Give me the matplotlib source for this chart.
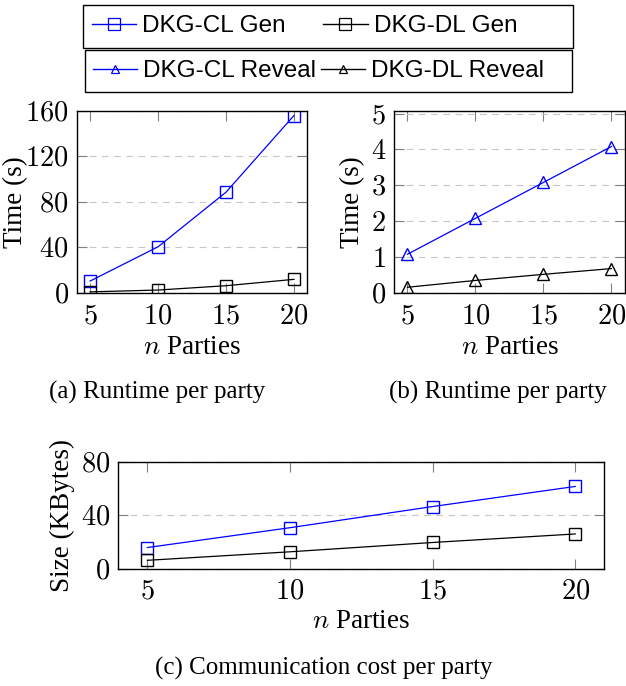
import matplotlib
matplotlib.use("Agg")
import matplotlib.pyplot as plt
from matplotlib.lines import Line2D
from matplotlib.patches import Rectangle

plt.rcParams['mathtext.fontset'] = 'cm'
plt.rcParams['font.family'] = ['Liberation Serif', 'DejaVu Serif']

# data
parties = [5, 10, 15, 20]
cl_gen = [10.5, 40.6, 88.6, 156]
dl_gen = [1.0, 2.6, 6.4, 12]
cl_reveal = [1.08, 2.08, 3.08, 4.08]
dl_reveal = [0.16, 0.35, 0.52, 0.68]
cl_comm = [15.9, 30.8, 46.7, 61.8]
dl_comm = [6.3, 12.7, 19.7, 26.1]

ticks_a = [0, 40, 80, 120, 160]
ticks_b = [0, 1, 2, 3, 4, 5]
ticks_c = [0, 40, 80]

BLUE = '#0000ff'
TICK_FS = 20.5
LABEL_FS = 19.5
CAP_FS = 18
LEG_FS = 17.5

W, H = 626, 686
fig = plt.figure(figsize=(W / 100, H / 100), dpi=100)


def px_axes(l, t, r, b):
    return fig.add_axes([l / W, 1 - b / H, (r - l) / W, (b - t) / H])


def style_axes(ax, yticks, ylim, xlim):
    ax.set_xlim(*xlim)
    ax.set_ylim(*ylim)
    ax.set_xticks(parties)
    ax.set_xticklabels([f'${p}$' for p in parties], fontsize=TICK_FS)
    ax.set_yticks(yticks)
    ax.set_yticklabels([f'${t}$' for t in yticks], fontsize=TICK_FS)
    ax.tick_params(direction='in', length=7, width=0.8, color='0.5',
                   top=True, right=True, pad=6)
    ax.tick_params(axis='x', pad=8)
    ax.yaxis.grid(True, linestyle=(0, (6, 5)), color='0.78', linewidth=0.8)
    ax.set_axisbelow(True)
    for s in ax.spines.values():
        s.set_linewidth(1.0)
    ax.set_xlabel(r'$n$ Parties', fontsize=LABEL_FS, va='center')


mk = dict(fillstyle='none', markeredgewidth=1.0, linewidth=0.9)

# (a) generation runtime
ax1 = px_axes(77, 111, 307, 293)
ax1.plot(parties, cl_gen, color=BLUE, marker='s', markersize=8.5, **mk)
ax1.plot(parties, dl_gen, color='black', marker='s', markersize=8.5, **mk)
style_axes(ax1, ticks_a, (0, 160), (4.04, 20.96))
ax1.set_ylabel('Time (s)', fontsize=LABEL_FS, va='center')
ax1.yaxis.set_label_coords(-0.268, 0.5)
ax1.xaxis.set_label_coords(0.5, -0.302)

# (b) reveal runtime
ax2 = px_axes(394.3, 111, 625, 293)
ax2.plot(parties, cl_reveal, color=BLUE, marker='^', markersize=8.5, **mk)
ax2.plot(parties, dl_reveal, color='black', marker='^', markersize=8.5, **mk)
style_axes(ax2, ticks_b, (0, 5.07), (4.03, 21.0))
ax2.set_ylabel('Time (s)', fontsize=LABEL_FS, va='center')
ax2.yaxis.set_label_coords(-0.181, 0.5)
ax2.xaxis.set_label_coords(0.5, -0.302)

# (c) communication
ax3 = px_axes(118.3, 461.7, 604.3, 568.7)
ax3.plot(parties, cl_comm, color=BLUE, marker='s', markersize=8.5, **mk)
ax3.plot(parties, dl_comm, color='black', marker='s', markersize=8.5, **mk)
style_axes(ax3, ticks_c, (0, 80.4), (3.98, 21.02))
ax3.set_ylabel('Size (KBytes)', fontsize=LABEL_FS, va='center')
ax3.yaxis.set_label_coords(-0.115, 0.5)
ax3.xaxis.set_label_coords(0.5, -0.495)

# captions
fig.text(157 / W, 1 - 392 / H, '(a) Runtime per party', fontsize=CAP_FS,
         ha='center', va='center')
fig.text(498 / W, 1 - 392 / H, '(b) Runtime per party', fontsize=CAP_FS,
         ha='center', va='center')
fig.text(324 / W, 1 - 668 / H, '(c) Communication cost per party',
         fontsize=CAP_FS, ha='center', va='center')

# legends: two stacked boxes drawn as frames, entries placed inside
for (l, t, r, b) in [(82.7, 4.7, 573, 47.7), (85, 50, 572, 92)]:
    fig.patches.append(Rectangle((l / W, 1 - b / H), (r - l) / W, (b - t) / H,
                                 transform=fig.transFigure, fill=False,
                                 edgecolor='black', linewidth=1.0))

lmk = dict(fillstyle='none', markeredgewidth=0.9, linewidth=1.0)
h_gen = [Line2D([], [], color=BLUE, marker='s', markersize=8, **lmk),
         Line2D([], [], color='black', marker='s', markersize=8, **lmk)]
h_rev = [Line2D([], [], color=BLUE, marker='^', markersize=6, **lmk),
         Line2D([], [], color='black', marker='^', markersize=6, **lmk)]

leg_kw = dict(ncol=2, loc='center left', frameon=False,
              handlelength=1.82, handletextpad=0.25,
              borderpad=0, borderaxespad=0,
              prop={'family': 'Liberation Sans', 'size': LEG_FS})
fig.legend(h_gen, ['DKG-CL Gen', 'DKG-DL Gen'],
           bbox_to_anchor=(91.7 / W, 1 - 26.2 / H),
           columnspacing=1.55, **leg_kw)
fig.legend(h_rev, ['DKG-CL Reveal', 'DKG-DL Reveal'],
           bbox_to_anchor=(93 / W, 1 - 71 / H),
           columnspacing=0.2, **leg_kw)

fig.savefig('out.png', dpi=100)
